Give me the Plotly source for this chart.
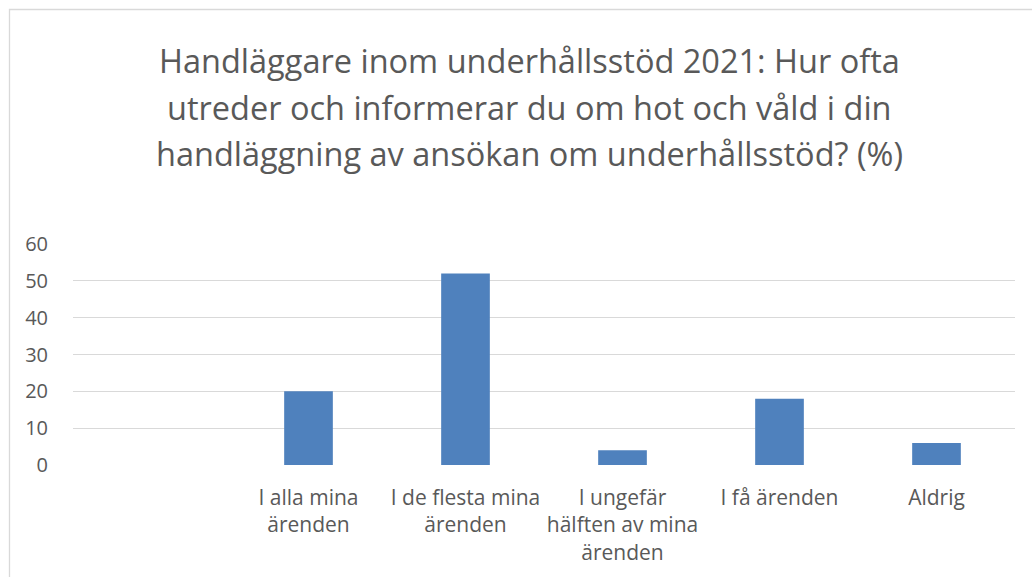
import plotly.graph_objects as go

categories = [" ", "I alla mina<br>ärenden", "I de flesta mina<br>ärenden",
              "I ungefär<br>hälften av mina<br>ärenden", "I få ärenden", "Aldrig"]
values = [None, 20, 52, 4, 18, 6]
y_ticks = [0, 10, 20, 30, 40, 50, 60]
title_lines = ["Handläggare inom underhållsstöd 2021: Hur ofta",
               "utreder och informerar du om hot och våld i din",
               "handläggning av ansökan om underhållsstöd? (%)"]

W, H = 1032, 577
L, R, T, B = 73, 1015, 244, 465

fig = go.Figure(go.Bar(x=categories, y=values, marker_color="#4f81bd",
                       marker_line_width=0, width=0.31))

def px(xp):
    return (xp - L) / (R - L)

def py(yp):
    return (B - yp) / (B - T)

annotations = []
for i, line in enumerate(title_lines):
    annotations.append(dict(text=line, xref="paper", yref="paper",
                            x=px(529), y=py(60 + 47 * i), xanchor="center",
                            yanchor="middle", showarrow=False,
                            font=dict(family="Open Sans", size=32.5, color="#595959")))

fig.update_layout(
    width=W, height=H,
    margin=dict(l=L, r=W - R, t=T, b=H - B, autoexpand=False),
    paper_bgcolor="white", plot_bgcolor="white",
    font=dict(family="Open Sans", color="#595959", size=20),
    showlegend=False,
    bargap=0.69,
    annotations=annotations,
    xaxis=dict(type="category", showgrid=False, showline=False, ticks="",
               automargin=False, ticklabelstandoff=18,
               tickfont=dict(size=21, color="#595959"), fixedrange=True),
    yaxis=dict(range=[0, 60], tickvals=y_ticks, showgrid=True,
               gridcolor="#d9d9d9", gridwidth=1.3, zeroline=False,
               showline=False, ticks="", ticklabelstandoff=24, automargin=False,
               tickfont=dict(size=20, color="#595959")),
    shapes=[dict(type="rect", xref="paper", yref="paper",
                 x0=px(9.5), x1=px(1040), y0=py(9.5), y1=py(590),
                 line=dict(color="#d9d9d9", width=1.3), layer="below")],
)

fig.write_html("out.html", config={"displayModeBar": False},
               post_script="document.body.style.margin='0';document.body.style.overflow='hidden';")
